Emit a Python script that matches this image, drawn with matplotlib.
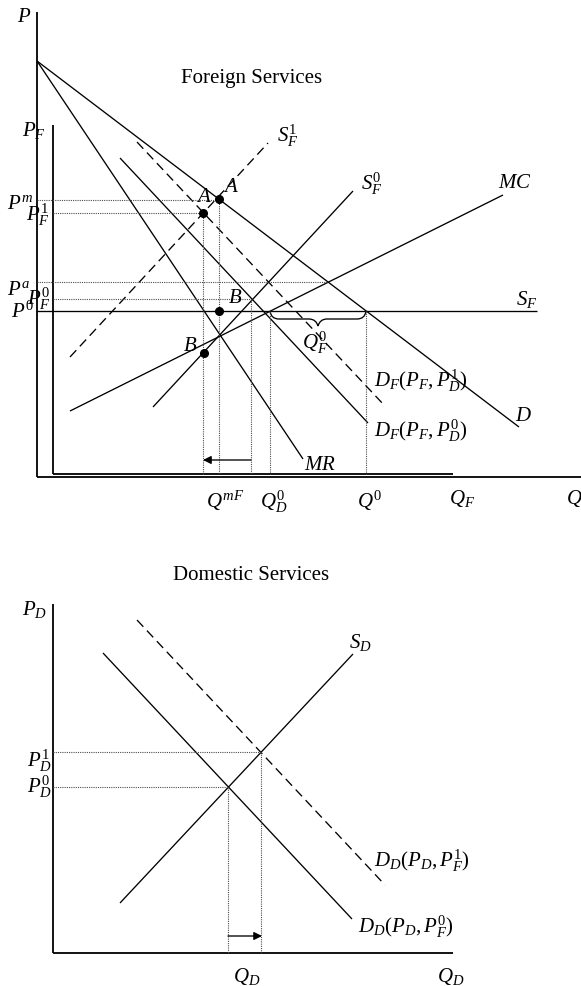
import numpy as np
import matplotlib
matplotlib.use('Agg')
import matplotlib.pyplot as plt
from matplotlib.path import Path
from matplotlib.patches import PathPatch

plt.rcParams['mathtext.fontset'] = 'custom'
plt.rcParams['mathtext.rm'] = 'Liberation Serif'
plt.rcParams['mathtext.it'] = 'Liberation Serif:italic'
plt.rcParams['mathtext.bf'] = 'Liberation Serif:bold'
plt.rcParams['font.family'] = 'Liberation Serif'

# --- curves of the diagram (figure pixel space, y down) ---
# Foreign services
axis_P = [[37, 37], [13, 478]]
axis_Q = [[37, 581], [478, 478]]
axis_PF = [[53, 53], [126, 475]]
axis_QF = [[53, 453], [475, 475]]
D = [[37, 519], [62, 428]]
MR = [[37, 303], [62, 460]]
DF0 = [[120, 368], [159, 424]]
DF1 = [[137, 384], [143, 406]]
SF1 = [[70, 268], [358, 144]]
SF0 = [[153, 353], [408, 192]]
MC = [[70, 503], [412, 196]]
SF = [[37, 537], [312, 312]]

# dotted guides: (x0, x1, y) and (x, y0, y1)
h_guides = [(37, 219, 201), (53, 203, 214), (37, 328, 283), (53, 252, 300)]
v_guides = [(203, 214, 475), (219, 200, 475), (251, 300, 475), (270, 312, 475), (366, 312, 475)]
dots_x = [219, 203, 219, 204]
dots_y = [200, 214, 312, 354]

# Domestic services
axis_PD = [[53, 53], [605, 954]]
axis_QD = [[53, 453], [954, 954]]
SD = [[120, 353], [904, 655]]
DD0 = [[103, 352], [654, 920]]
DD1 = [[137, 385], [621, 886]]
h_guides_d = [(53, 261, 753), (53, 228, 788)]
v_guides_d = [(228, 788, 954), (261, 753, 954)]

fig = plt.figure(figsize=(5.81, 9.87), dpi=100)
ax = fig.add_axes([0, 0, 1, 1])
ax.set_xlim(0, 581)
ax.set_ylim(987, 0)
ax.axis('off')

solid = dict(color='black', lw=0.95, solid_capstyle='butt')
dash = dict(color='black', lw=0.95, linestyle=(0, (7, 4)))
dot = dict(color='0.3', lw=0.8, linestyle=(0, (1, 1)))

for ln in [axis_P, axis_Q, axis_PF, axis_QF, axis_PD, axis_QD]:
    ax.plot(ln[0], ln[1], color='black', lw=1.3, solid_capstyle='butt')
for ln in [D, MR, DF0, SF0, MC, SF, SD, DD0]:
    ax.plot(ln[0], ln[1], **solid)
for ln in [DF1, SF1, DD1]:
    ax.plot(ln[0], ln[1], **dash)

for x0, x1, y in h_guides + h_guides_d:
    ax.plot([x0, x1], [y, y], **dot)
for x, y0, y1 in v_guides + v_guides_d:
    ax.plot([x, x], [y0, y1], **dot)

ax.plot(dots_x, dots_y, 'o', color='black', ms=5.5, zorder=5)

# arrows
ax.annotate('', xy=(203, 461), xytext=(251, 461),
            arrowprops=dict(arrowstyle='-|>', color='black', lw=0.95, mutation_scale=12, shrinkA=0, shrinkB=0))
ax.annotate('', xy=(262, 937), xytext=(228, 937),
            arrowprops=dict(arrowstyle='-|>', color='black', lw=0.95, mutation_scale=12, shrinkA=0, shrinkB=0))

# brace under S_F
verts = [(270, 312), (271, 320), (279, 320), (309, 320), (316, 320), (318, 327),
         (320, 320), (327, 320), (357, 320), (365, 320), (366, 312)]
codes = [Path.MOVETO, Path.CURVE3, Path.CURVE3, Path.LINETO, Path.CURVE3, Path.CURVE3,
         Path.CURVE3, Path.CURVE3, Path.LINETO, Path.CURVE3, Path.CURVE3]
ax.add_patch(PathPatch(Path(verts, codes), fill=False, lw=0.95, color='black'))

fs = 15
labels = [
    (17, 22, r'$P$'), (22, 136, r'$P_F$'), (7, 209, r'$P^m$'), (26, 221, r'$P_F^1$'),
    (7, 295, r'$P^a$'), (27, 305, r'$P_F^0$'), (11, 318, r'$P^0$'),
    (277, 142, r'$S_F^1$'), (361, 190, r'$S_F^0$'), (498, 188, r'$MC$'), (516, 305, r'$S_F$'),
    (223, 192, r'$A$'), (196, 202, r'$A$'), (228, 303, r'$B$'), (183, 351, r'$B$'),
    (302, 349, r'$Q_F^0$'), (374, 387, r'$D_F(P_F,P_D^1)$'), (374, 437, r'$D_F(P_F,P_D^0)$'),
    (515, 421, r'$D$'), (304, 470, r'$MR$'),
    (206, 508, r'$Q^{mF}$'), (260, 508, r'$Q_D^0$'), (357, 508, r'$Q^0$'),
    (449, 504, r'$Q_F$'), (566, 504, r'$Q$'),
    (22, 615, r'$P_D$'), (27, 767, r'$P_D^1$'), (27, 793, r'$P_D^0$'),
    (349, 648, r'$S_D$'), (374, 867, r'$D_D(P_D,P_F^1)$'), (358, 933, r'$D_D(P_D,P_F^0)$'),
    (233, 982, r'$Q_D$'), (437, 982, r'$Q_D$'),
]
for x, y, s in labels:
    ax.text(x, y, s, fontsize=fs, ha='left', va='baseline')

ax.text(252, 79, 'Foreign Services', fontsize=15, ha='center', va='center')
ax.text(251, 575, 'Domestic Services', fontsize=15, ha='center', va='center')

fig.savefig('out.png', dpi=100)
